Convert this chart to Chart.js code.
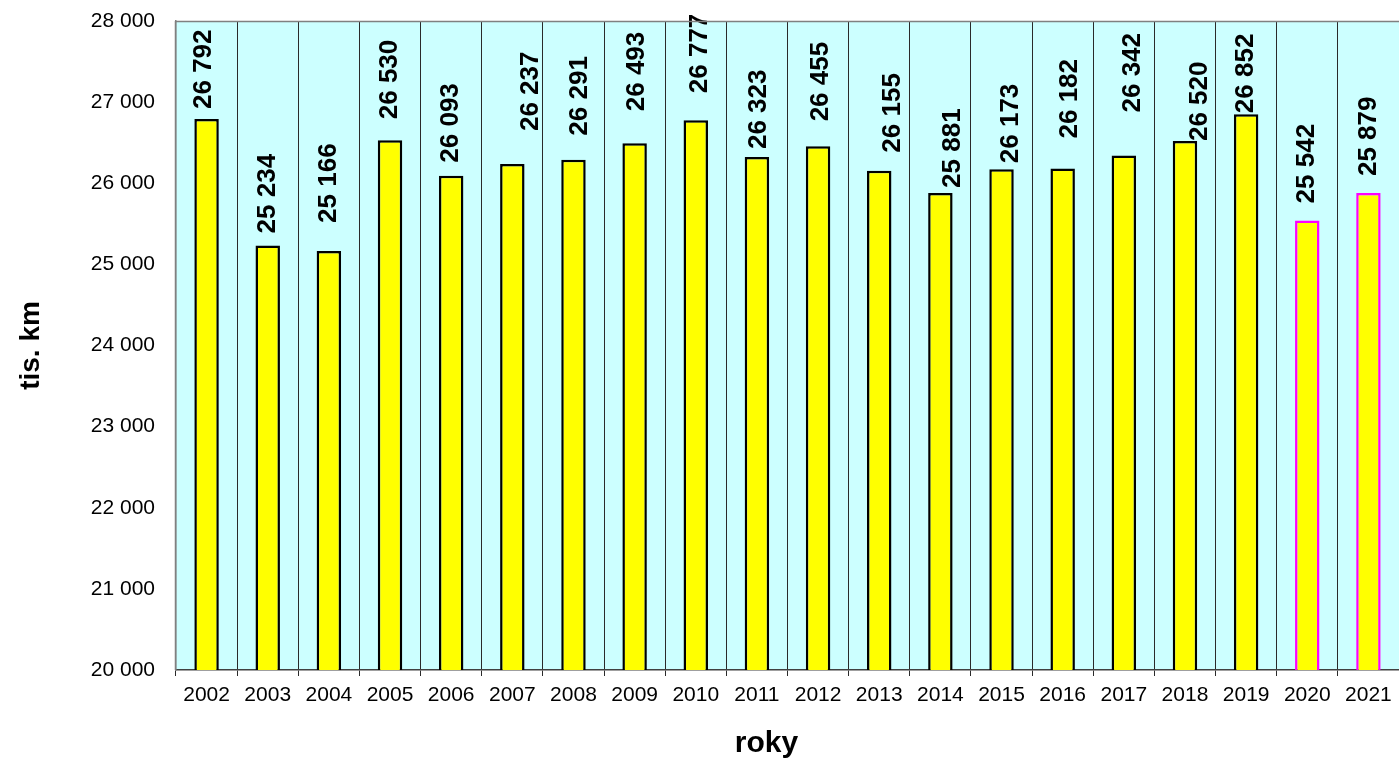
<!DOCTYPE html>
<html>
<head>
<meta charset="utf-8">
<script src="https://cdn.jsdelivr.net/npm/chart.js@4"></script>
<style>
  html, body { margin: 0; padding: 0; background: #ffffff; }
  #wrap { width: 1399px; height: 763px; }
</style>
</head>
<body>
<div id="wrap"><canvas id="c" width="1399" height="763"></canvas></div>
<script>
// ---- data ----
const years = ['2002','2003','2004','2005','2006','2007','2008','2009','2010','2011',
               '2012','2013','2014','2015','2016','2017','2018','2019','2020','2021'];
const values = [26792, 25234, 25166, 26530, 26093, 26237, 26291, 26493, 26777, 26323,
                26455, 26155, 25881, 26173, 26182, 26342, 26520, 26852, 25542, 25879];
const highlightYears = ['2020', '2021'];
const yMin = 20000;
const yMax = 28000;
const yStep = 1000;
const xTitle = 'roky';
const yTitle = 'tis. km';

// manual label placement as in the original (relative to each bar's top)
const labelDx  = [-3, 0, 0, 0, 0, 19, 6, 2, 4, 2, 3, 14, 12, 9, 7, 9, 15, 0, 0, 0];
const labelGap = [10, 12, 28, 21, 13, 33, 24, 32, 27, 8, 25, 18, 5, 6, 30, 43, 0, 1, 17, 17];

const fmt = v => String(Math.round(v)).replace(/\B(?=(\d{3})+(?!\d))/g, '\u00a0');
const FONT = '"Liberation Sans", Arial, sans-serif';

const plotBg = {
  id: 'plotBg',
  beforeDraw(chart) {
    const {ctx, chartArea: a} = chart;
    ctx.save();
    ctx.fillStyle = '#CCFFFF';
    ctx.fillRect(a.left, a.top, a.right - a.left, a.bottom - a.top);
    ctx.restore();
  },
  afterDraw(chart) {
    const {ctx, chartArea: a} = chart;
    ctx.save();
    ctx.strokeStyle = '#808080';
    ctx.lineWidth = 1.5;
    ctx.beginPath();
    ctx.moveTo(a.left, Math.round(a.top) + 0.5);
    ctx.lineTo(a.right, Math.round(a.top) + 0.5);
    ctx.moveTo(Math.round(a.left) - 0.5, a.top);
    ctx.lineTo(Math.round(a.left) - 0.5, a.bottom);
    ctx.stroke();
    // x axis title (placed as in the original, a little left of centre)
    ctx.fillStyle = '#000000';
    ctx.font = 'bold 30px ' + FONT;
    ctx.textAlign = 'center';
    ctx.textBaseline = 'middle';
    ctx.fillText(xTitle, (a.left + a.right) / 2 - 21, a.bottom + 74);
    ctx.restore();
  }
};

const barLabels = {
  id: 'barLabels',
  afterDatasetsDraw(chart) {
    const {ctx} = chart;
    const meta = chart.getDatasetMeta(0);
    ctx.save();
    ctx.fillStyle = '#000000';
    ctx.font = 'bold 26px ' + FONT;
    ctx.textAlign = 'left';
    ctx.textBaseline = 'middle';
    meta.data.forEach((bar, i) => {
      const v = chart.data.datasets[0].data[i];
      ctx.save();
      ctx.translate(bar.x + labelDx[i], bar.y - labelGap[i]);
      ctx.rotate(-Math.PI / 2);
      ctx.fillText(fmt(v), 0, 0);
      ctx.restore();
    });
    ctx.restore();
  }
};

new Chart(document.getElementById('c'), {
  type: 'bar',
  data: {
    labels: years,
    datasets: [{
      data: values,
      backgroundColor: '#FFFF00',
      borderColor: years.map(y => highlightYears.includes(y) ? '#FF00FF' : '#000000'),
      borderWidth: 2.5,
      borderSkipped: false,
      categoryPercentage: 1.0,
      barPercentage: 0.4
    }]
  },
  options: {
    responsive: false,
    animation: false,
    devicePixelRatio: 1,
    layout: { padding: { top: 21, right: 0, left: 0, bottom: 0 } },
    plugins: {
      legend: { display: false },
      tooltip: { enabled: false }
    },
    scales: {
      x: {
        offset: true,
        grid: {
          offset: true,
          display: true,
          drawOnChartArea: true,
          drawTicks: true,
          tickLength: 6,
          color: '#2a2a2a',
          lineWidth: 1
        },
        border: { display: true, color: '#404040', width: 1.5 },
        ticks: {
          color: '#000000',
          font: { family: FONT, size: 21 },
          padding: 7,
          maxRotation: 0,
          autoSkip: false
        },
        title: { display: false },
        afterFit(scale) { scale.height = 93; }
      },
      y: {
        min: yMin,
        max: yMax,
        grid: { display: false, drawTicks: false },
        border: { display: true, color: '#808080', width: 1.5 },
        ticks: {
          stepSize: yStep,
          color: '#000000',
          font: { family: FONT, size: 21 },
          padding: 21,
          callback: v => fmt(v)
        },
        title: {
          display: true,
          text: yTitle,
          color: '#000000',
          font: { family: FONT, size: 28, weight: 'bold' },
          padding: { top: 14, bottom: 0 }
        },
        afterFit(scale) { scale.width = 176; scale.paddingTop = 0; scale.paddingBottom = 0; }
      }
    }
  },
  plugins: [plotBg, barLabels]
});
</script>
</body>
</html>
